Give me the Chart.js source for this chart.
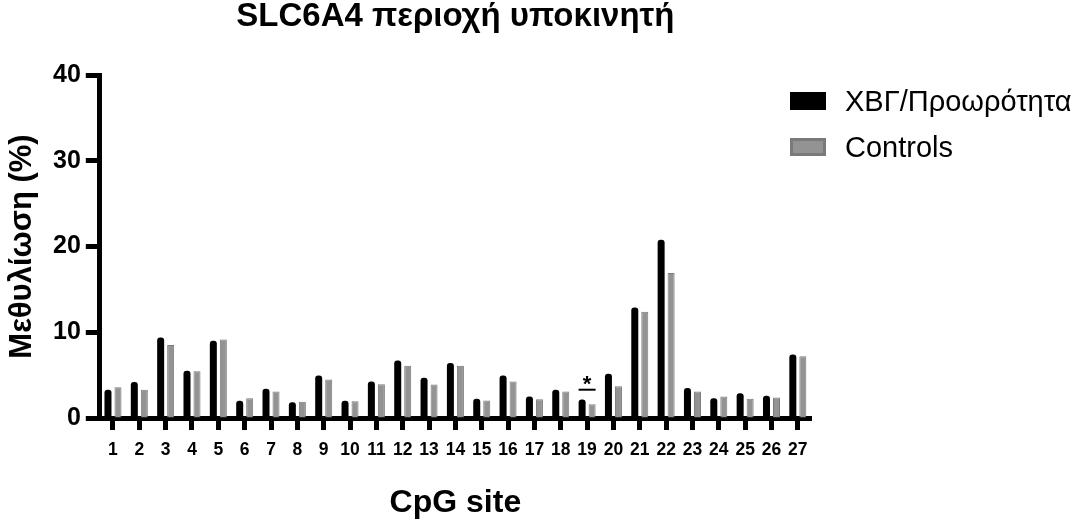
<!DOCTYPE html>
<html>
<head>
<meta charset="utf-8">
<title>SLC6A4 περιοχή υποκινητή</title>
<script src="https://cdn.jsdelivr.net/npm/chart.js@4.4.0/dist/chart.umd.min.js"></script>
<style>
  body { margin: 0; background: #fff; }
  #wrap { position: relative; width: 1074px; height: 519px; }
  #legend { position: absolute; left: 790px; top: 78px; font-family: "Liberation Sans", Arial, sans-serif; font-size: 29px; color: #000; }
  .item { display: flex; align-items: center; height: 46px; white-space: nowrap; }
  .swatch { width: 36px; height: 18px; box-sizing: border-box; margin-right: 19px; }
  .label { line-height: 29px; }
</style>
</head>
<body>
<div id="wrap">
  <canvas id="chart" width="1074" height="519"></canvas>
  <div id="legend"></div>
</div>
<script>
// CpG sites on the x axis
var sites = ['1', '2', '3', '4', '5', '6', '7', '8', '9', '10', '11', '12', '13', '14',
  '15', '16', '17', '18', '19', '20', '21', '22', '23', '24', '25', '26', '27'];

// methylation (%)
var patients = [3.3, 4.2, 9.4, 5.5, 9.0, 2.0, 3.4, 1.85, 4.95, 2.0, 4.25, 6.7, 4.7, 6.4,
  2.25, 4.95, 2.5, 3.3, 2.15, 5.15, 12.9, 20.8, 3.5, 2.3, 2.9, 2.6, 7.4];
var controls = [3.6, 3.3, 8.5, 5.45, 9.15, 2.3, 3.1, 1.9, 4.5, 1.95, 3.95, 6.1, 3.9, 6.1,
  2.05, 4.25, 2.2, 3.1, 1.6, 3.7, 12.4, 16.9, 3.1, 2.5, 2.25, 2.4, 7.2];

var seriesNames = ['ΧΒΓ/Προωρότητα', 'Controls'];

// significance marks: site, symbol, height of the bar line (%)
var sigSites = ['19'];
var sigLabels = ['*'];
var sigLevels = [3.3];

var FONT = '"Liberation Sans", Arial, sans-serif';

var sigPlugin = {
  id: 'sig',
  afterDatasetsDraw: function (chart) {
    var ctx = chart.ctx;
    var yScale = chart.scales.y;
    var a = chart.getDatasetMeta(0).data;
    var b = chart.getDatasetMeta(1).data;
    sigSites.forEach(function (site, i) {
      var idx = sites.indexOf(site);
      var left = a[idx].x - a[idx].width / 2;
      var right = b[idx].x + b[idx].width / 2;
      var py = yScale.getPixelForValue(sigLevels[i]);
      ctx.save();
      ctx.strokeStyle = '#000';
      ctx.lineWidth = 2;
      ctx.beginPath();
      ctx.moveTo(left, py);
      ctx.lineTo(right, py);
      ctx.stroke();
      ctx.fillStyle = '#000';
      ctx.font = 'bold 22px ' + FONT;
      ctx.textAlign = 'center';
      ctx.textBaseline = 'alphabetic';
      ctx.fillText(sigLabels[i], (left + right) / 2, py + 1);
      ctx.restore();
    });
  }
};

var chart = new Chart(document.getElementById('chart'), {
  type: 'bar',
  data: {
    labels: sites,
    datasets: [{
      label: seriesNames[0],
      data: patients,
      backgroundColor: '#000',
      borderColor: '#000',
      borderWidth: 0,
      borderRadius: { topLeft: 3, topRight: 3 },
      borderSkipped: 'bottom'
    }, {
      label: seriesNames[1],
      data: controls,
      backgroundColor: '#939393',
      borderColor: '#7a7a7a',
      borderWidth: 1,
      borderSkipped: 'bottom'
    }]
  },
  options: {
    responsive: false,
    animation: false,
    devicePixelRatio: 1,
    categoryPercentage: 0.76,
    barPercentage: 0.7,
    layout: { padding: { left: 0, right: 263, top: 0, bottom: 0 } },
    plugins: {
      legend: { display: false },
      tooltip: { enabled: false },
      title: {
        display: true,
        fullSize: false,
        text: 'SLC6A4 περιοχή υποκινητή',
        color: '#000',
        font: { family: FONT, size: 33, weight: 'bold', lineHeight: 1 },
        padding: { top: 0, bottom: 42 }
      }
    },
    scales: {
      x: {
        grid: { display: true, drawOnChartArea: false, offset: false, tickLength: 12, tickWidth: 5, tickColor: '#000' },
        border: { display: true, color: '#000', width: 5 },
        ticks: { color: '#000', font: { family: FONT, size: 17.5, weight: 'bold' }, padding: 10, maxRotation: 0, autoSkip: false },
        title: {
          display: true,
          text: 'CpG site',
          color: '#000',
          font: { family: FONT, size: 32, weight: 'bold', lineHeight: 1 },
          padding: { top: 16, bottom: 0 }
        }
      },
      y: {
        min: 0,
        max: 40,
        grid: { display: true, drawOnChartArea: false, tickLength: 14, tickWidth: 5, tickColor: '#000' },
        border: { display: true, color: '#000', width: 5 },
        ticks: { stepSize: 10, color: '#000', font: { family: FONT, size: 25, weight: 'bold' }, padding: 5 },
        title: {
          display: true,
          text: 'Μεθυλίωση (%)',
          color: '#000',
          font: { family: FONT, size: 31, weight: 'bold', lineHeight: 1 },
          padding: { top: 7, bottom: 10 }
        }
      }
    }
  },
  plugins: [sigPlugin]
});

// legend built from the datasets, placed over the canvas like the original
var legend = document.getElementById('legend');
chart.data.datasets.forEach(function (ds) {
  var item = document.createElement('div');
  item.className = 'item';
  var sw = document.createElement('span');
  sw.className = 'swatch';
  sw.style.background = ds.backgroundColor;
  sw.style.border = ds.borderWidth ? '3px solid ' + ds.borderColor : 'none';
  var txt = document.createElement('span');
  txt.className = 'label';
  txt.textContent = ds.label;
  item.appendChild(sw);
  item.appendChild(txt);
  legend.appendChild(item);
});
</script>
</body>
</html>
